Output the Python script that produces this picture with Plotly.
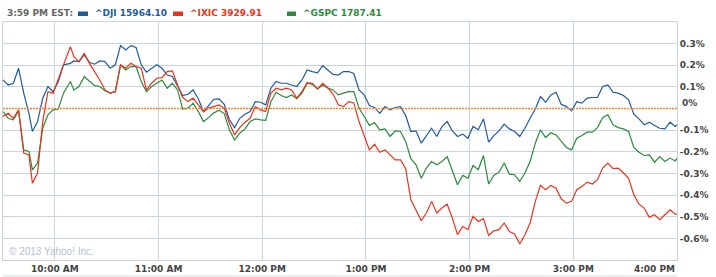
import plotly.graph_objects as go
import pandas as pd

# ---- data ----
minutes = [0, 3, 6, 9, 12, 15, 17, 20, 23, 26, 29, 32, 35, 39, 41, 44, 47, 50, 53, 56,
           59, 62, 65, 68, 71, 74, 77, 80, 83, 86,
           89, 92, 95, 98, 101, 104, 107, 110, 113, 116,
           119, 122, 125, 128, 131, 134, 137, 140, 143, 146,
           149, 152, 155, 158, 161, 164, 167, 170, 173, 176,
           179, 182, 185, 188, 191, 194, 197, 200, 203, 206,
           209, 212, 215, 218, 221, 224, 227, 230, 233, 236,
           239, 242, 245, 248, 251, 254, 257, 260, 263, 266,
           269, 272, 275, 278, 281, 284, 287, 290, 293, 296,
           299, 302, 305, 308, 311, 314, 317, 320, 323, 326,
           329, 332, 335, 338, 341, 344, 347, 350, 353, 356,
           359, 362, 365, 368, 371, 374, 377, 380, 383, 386,
           389, 390]

dji = [0.132, 0.109, 0.117, 0.186, 0.071, -0.022, -0.106, -0.060, 0.048, 0.102,
       0.078, 0.125, 0.202, 0.209, 0.220, 0.217, 0.248, 0.214, 0.205, 0.220,
       0.217, 0.186, 0.202, 0.291, 0.271, 0.291, 0.282, 0.202, 0.168, 0.186,
       0.202, 0.186, 0.155, 0.148, 0.102, 0.060, 0.066, 0.086, 0.045, -0.014,
       0.014, 0.043, 0.045, 0.020, -0.052, -0.088, -0.045, -0.026, -0.014, 0.032,
       0.029, 0.017, 0.094, 0.125, 0.117, 0.117, 0.109, 0.102, 0.132, 0.178,
       0.171, 0.165, 0.198, 0.178, 0.158, 0.155, 0.171, 0.171, 0.162, 0.086,
       0.063, 0.014, 0.005, -0.022, 0.009, -0.006, 0.005, 0.009, -0.032, -0.106,
       -0.103, -0.160, -0.125, -0.091, -0.129, -0.083, -0.060, -0.103, -0.129, -0.118,
       -0.137, -0.083, -0.098, -0.048, -0.155, -0.125, -0.103, -0.072, -0.094, -0.106,
       -0.129, -0.091, -0.045, -0.002, 0.055, 0.029, 0.063, 0.075, 0.020, 0.009,
       -0.011, 0.032, 0.025, 0.048, 0.051, 0.051, 0.102, 0.109, 0.075, 0.071,
       0.060, 0.040, -0.026, -0.048, -0.075, -0.063, -0.078, -0.091, -0.094, -0.063,
       -0.083, -0.075]

ixic = [-0.037, -0.022, -0.045, -0.006, -0.206, -0.214, -0.345, -0.298, -0.060, 0.078,
        0.071, 0.132, 0.202, 0.286, 0.240, 0.217, 0.255, 0.209, 0.171, 0.132,
        0.086, 0.071, 0.078, 0.202, 0.186, 0.209, 0.194, 0.186, 0.086, 0.117,
        0.140, 0.143, 0.171, 0.174, 0.109, 0.051, 0.032, 0.048, 0.017, -0.014,
        0.002, 0.009, 0.017, 0.002, -0.068, -0.122, -0.088, -0.063, -0.045, 0.009,
        -0.006, -0.014, 0.071, 0.094, 0.086, 0.094, 0.086, 0.048, 0.078, 0.120,
        0.117, 0.091, 0.117, 0.097, 0.066, 0.017, 0.009, 0.032, 0.026, -0.060,
        -0.122, -0.191, -0.165, -0.202, -0.191, -0.214, -0.237, -0.237, -0.278, -0.422,
        -0.468, -0.518, -0.483, -0.429, -0.483, -0.460, -0.442, -0.506, -0.583, -0.545,
        -0.560, -0.498, -0.522, -0.509, -0.586, -0.565, -0.560, -0.529, -0.568, -0.580,
        -0.626, -0.583, -0.529, -0.429, -0.355, -0.375, -0.355, -0.368, -0.417, -0.437,
        -0.429, -0.375, -0.360, -0.340, -0.349, -0.329, -0.275, -0.252, -0.278, -0.275,
        -0.298, -0.322, -0.398, -0.442, -0.460, -0.503, -0.491, -0.514, -0.491, -0.468,
        -0.488, -0.488]

gspc = [-0.014, -0.045, -0.052, -0.011, -0.191, -0.198, -0.283, -0.252, -0.091, -0.029,
        -0.006, -0.002, 0.071, 0.125, 0.086, 0.102, 0.148, 0.125, 0.106, 0.102,
        0.082, 0.071, 0.078, 0.202, 0.178, 0.194, 0.194, 0.125, 0.078, 0.102,
        0.117, 0.132, 0.094, 0.117, 0.086, -0.002, 0.002, 0.025, -0.014, -0.060,
        -0.042, -0.020, -0.008, -0.023, -0.098, -0.145, -0.114, -0.094, -0.060, -0.048,
        -0.052, -0.055, 0.032, 0.075, 0.060, 0.051, 0.063, 0.045, 0.071, 0.117,
        0.112, 0.091, 0.109, 0.094, 0.086, 0.063, 0.071, 0.078, 0.078, 0.002,
        -0.037, -0.078, -0.065, -0.098, -0.094, -0.129, -0.103, -0.106, -0.152, -0.232,
        -0.260, -0.322, -0.275, -0.245, -0.260, -0.245, -0.222, -0.283, -0.352, -0.309,
        -0.322, -0.263, -0.283, -0.217, -0.349, -0.309, -0.294, -0.252, -0.303, -0.306,
        -0.337, -0.298, -0.245, -0.160, -0.098, -0.134, -0.112, -0.122, -0.152, -0.180,
        -0.191, -0.137, -0.125, -0.109, -0.109, -0.088, -0.042, -0.029, -0.075, -0.088,
        -0.094, -0.106, -0.180, -0.202, -0.217, -0.214, -0.248, -0.222, -0.245, -0.229,
        -0.242, -0.229]

header_time = "3:59 PM EST:"
series_names = ["^DJI", "^IXIC", "^GSPC"]
last_quotes = ["15964.10", "3929.91", "1787.41"]
y_tick_vals = [0.3, 0.2, 0.1, -0.1, -0.2, -0.3, -0.4, -0.5, -0.6]
y_tick_text = ["0.3%", "0.2%", "0.1%", "-0.1%", "-0.2%", "-0.3%", "-0.4%", "-0.5%", "-0.6%"]
zero_label = "0%"
x_tick_hours = ["10:00", "11:00", "12:00", "13:00", "14:00", "15:00"]
x_tick_text = ["10:00 AM", "11:00 AM", "12:00 PM", "1:00 PM", "2:00 PM", "3:00 PM"]
close_hour = "16:00"
close_label = "4:00 PM"
copyright_text = "© 2013 Yahoo! Inc."

# ---- styling ----
colors = ["#1f5b9c", "#e8341c", "#2b8a3c"]
grid = "#c9d5de"
label_font = dict(family="DejaVu Sans", size=9, color="#444444", weight="bold")

day = "2013-12-06 "
base = pd.Timestamp(day + "09:30")
times = [base + pd.Timedelta(minutes=m) for m in minutes]

fig = go.Figure()
for vals, col, name in [(dji, colors[0], series_names[0]),
                        (gspc, colors[2], series_names[2]),
                        (ixic, colors[1], series_names[1])]:
    fig.add_trace(go.Scatter(x=times, y=vals, mode="lines", name=name,
                             line=dict(color=col, width=1.2), showlegend=False))

W, H = 716, 277
L, R, T, B = 3, 39, 22, 17
pw, ph = W - L - R, H - T - B

def px(x):
    return (x - L) / pw

def py(y):
    return (H - B - y) / ph

fig.update_layout(
    width=W, height=H,
    margin=dict(l=L, r=R, t=T, b=B, pad=0),
    paper_bgcolor="white", plot_bgcolor="white",
    showlegend=False,
    xaxis=dict(type="date",
               range=[base, pd.Timestamp(day + close_hour)],
               tickvals=[pd.Timestamp(day + h) for h in x_tick_hours],
               ticktext=x_tick_text, ticks="",
               showgrid=True, gridcolor=grid, gridwidth=1,
               showline=True, linecolor=grid, linewidth=1, mirror=True,
               zeroline=False, tickfont=label_font),
    yaxis=dict(side="right", range=[-0.7, 0.4],
               tickvals=y_tick_vals, ticktext=y_tick_text, ticks="",
               showgrid=True, gridcolor=grid, gridwidth=1,
               showline=True, linecolor=grid, linewidth=1, mirror=True,
               zeroline=False, tickfont=label_font),
)

# previous close line
fig.add_shape(type="line", xref="paper", x0=0, x1=1, yref="y", y0=0, y1=0,
              line=dict(color="#f5832f", width=1.6, dash="2px,1px"), layer="above")
# line under x labels
fig.add_shape(type="line", xref="paper", x0=0, x1=1, yref="paper",
              y0=py(276), y1=py(276), line=dict(color="#d3dbe1", width=1))

# 0% label and 4:00 PM label
fig.add_annotation(xref="paper", x=1, xanchor="left", xshift=3, yref="y", y=0,
                   yshift=6, text=zero_label, showarrow=False, font=label_font)
fig.add_annotation(xref="x", x=pd.Timestamp(day + close_hour), xanchor="right",
                   yref="paper", y=0, yanchor="top", yshift=-2,
                   text=close_label, showarrow=False, font=label_font)

# header
hy = py(13.5)
fig.add_annotation(xref="paper", yref="paper", x=px(4.5), y=hy, xanchor="left",
                   yanchor="middle", text=header_time, showarrow=False,
                   font=dict(family="DejaVu Sans", size=9, color="#666666", weight="bold"))
sq = [(78, 88), (173, 183), (287, 296)]
tx = [92.5, 187.5, 301]
for i in range(3):
    fig.add_shape(type="rect", xref="paper", yref="paper",
                  x0=px(sq[i][0]), x1=px(sq[i][1]), y0=py(16), y1=py(11.5),
                  fillcolor=colors[i], line=dict(width=0))
    fig.add_annotation(xref="paper", yref="paper", x=px(tx[i]), y=hy,
                       xanchor="left", yanchor="middle",
                       text=series_names[i] + " " + last_quotes[i], showarrow=False,
                       font=dict(family="DejaVu Sans", size=9, color=colors[i], weight="bold"))

fig.add_annotation(xref="paper", yref="paper", x=px(6.5), y=py(251.5),
                   xanchor="left", yanchor="middle", text=copyright_text, showarrow=False,
                   font=dict(family="Liberation Sans", size=10, color="#b3bfcb"))

fig.write_html("out.html")
